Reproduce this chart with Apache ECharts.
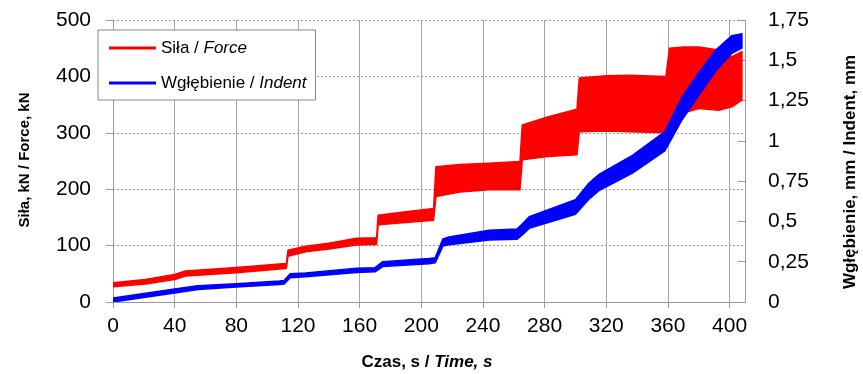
<!DOCTYPE html>
<html>
<head>
<meta charset="utf-8">
<script src="https://cdn.jsdelivr.net/npm/echarts@6/dist/echarts.min.js"></script>
<style>html,body{margin:0;padding:0;background:#fff}#c{width:863px;height:374px}</style>
</head>
<body>
<div id="c"></div>
<script>
// Force band (kN), left axis
const forceTime  = [0, 21, 40, 47, 80, 110, 112.5, 113.5, 125, 140, 158, 171, 172, 190, 208, 209.5, 225, 244, 264, 265.5, 282, 301, 302.5, 320, 335, 358.7, 361, 370, 380, 393, 401.5, 408];
const forceUpper = [34, 40, 49, 55, 61, 68, 68, 92, 99, 104, 113, 114, 154, 160, 166, 240, 244, 246, 249, 314, 328, 342, 397, 401, 402, 400, 450, 452, 452, 447, 435, 444];
const forceLower = [27, 32, 40, 46, 52, 59, 60, 81, 89, 94, 101, 102, 137, 141, 145, 187, 195, 199, 199, 252, 258, 261, 302, 303, 302, 300, 320, 335, 343, 340, 346, 358];
// Indent band (mm), right axis
const indentTime  = [0, 40, 55, 80, 108, 111, 115, 125, 158, 170, 175, 205, 209, 214, 218, 244, 262, 265, 270, 300, 309, 315, 337, 358, 369, 380, 391, 401.5, 408];
const indentUpper = [0.024, 0.080, 0.101, 0.113, 0.130, 0.134, 0.176, 0.180, 0.209, 0.213, 0.250, 0.270, 0.275, 0.391, 0.403, 0.445, 0.453, 0.479, 0.529, 0.635, 0.740, 0.790, 0.910, 1.058, 1.268, 1.423, 1.563, 1.653, 1.665];
const indentLower = [0.000, 0.056, 0.077, 0.093, 0.108, 0.112, 0.150, 0.156, 0.183, 0.187, 0.220, 0.238, 0.243, 0.347, 0.355, 0.385, 0.389, 0.411, 0.457, 0.545, 0.640, 0.690, 0.800, 0.938, 1.128, 1.283, 1.433, 1.543, 1.575];
const seriesNames = ['Siła / Force', 'Wgłębienie / Indent'];
const xTitle = ['Czas, s / ', 'Time, s'];
const yLeftTitle = 'Siła, kN / Force, kN';
const yRightTitle = 'Wgłębienie, mm / Indent, mm';

const FONT = 'Liberation Sans, Arial, sans-serif';
const RED = '#ff0000', BLUE = '#0000ff';
const rows = (t, u, l) => t.map((x, i) => [x, u[i], l[i]]);

function makeBand(name, color, yIdx, data) {
  return {
    name: name, type: 'custom', yAxisIndex: yIdx, clip: true,
    itemStyle: {color: color},
    encode: {x: 0, y: [1, 2]},
    data: data,
    renderItem: function (params, api) {
      if (params.dataIndex !== 0) return null;
      const pts = [];
      for (let i = 0; i < data.length; i++) pts.push(api.coord([data[i][0], data[i][1]]));
      for (let i = data.length - 1; i >= 0; i--) pts.push(api.coord([data[i][0], data[i][2]]));
      return {
        type: 'polygon', shape: {points: pts}, silent: true,
        style: {fill: color, stroke: color, lineWidth: 1.5, lineJoin: 'round'}
      };
    }
  };
}

const chart = echarts.init(document.getElementById('c'), null, {renderer: 'canvas'});
chart.setOption({
  animation: false,
  backgroundColor: '#fff',
  grid: {left: 113, right: 118, top: 20, bottom: 72},
  legend: {
    left: 98, top: 30, orient: 'vertical',
    data: seriesNames,
    icon: 'rect', itemWidth: 47, itemHeight: 3, itemGap: 15,
    padding: [8, 9, 7, 11],
    backgroundColor: '#fff', borderColor: '#888', borderWidth: 1, borderRadius: 0,
    formatter: n => { const p = n.split(' / '); return '{n|' + p[0] + ' / }{i|' + p[1] + '}'; },
    textStyle: {
      color: '#000', fontFamily: FONT, fontSize: 17, lineHeight: 20,
      rich: {n: {fontFamily: FONT, fontSize: 17, color: '#000'}, i: {fontFamily: FONT, fontSize: 17, fontStyle: 'italic', color: '#000'}}
    }
  },
  xAxis: {
    type: 'value', min: 0, max: 410, interval: 40,
    axisLine: {show: true, lineStyle: {color: '#999', width: 1}},
    axisTick: {show: true, inside: false, length: 6, lineStyle: {color: '#999'}},
    axisLabel: {color: '#000', fontFamily: FONT, fontSize: 21, margin: 14, showMaxLabel: false},
    splitLine: {show: true, lineStyle: {color: '#a6a6a6', width: 1}}
  },
  yAxis: [{
    type: 'value', min: 0, max: 500, interval: 100, position: 'left',
    axisLine: {show: true, lineStyle: {color: '#999', width: 1}},
    axisTick: {show: true, inside: false, length: 7, lineStyle: {color: '#999'}},
    axisLabel: {color: '#000', fontFamily: FONT, fontSize: 21, margin: 22},
    splitLine: {show: true, lineStyle: {color: '#999', width: 1, type: [2, 2]}}
  }, {
    type: 'value', min: 0, max: 1.75, interval: 0.25, position: 'right',
    axisLine: {show: true, lineStyle: {color: '#999', width: 1}},
    axisTick: {show: true, inside: true, length: 7, lineStyle: {color: '#999'}},
    axisLabel: {color: '#000', fontFamily: FONT, fontSize: 21, margin: 23,
      formatter: v => String(+v.toFixed(2)).replace('.', ',')},
    splitLine: {show: false}
  }],
  graphic: [
    {type: 'text', x: 25, y: 160, rotation: Math.PI / 2,
      style: {text: yLeftTitle, fontFamily: FONT, fontSize: 15, fontWeight: 'bold', fill: '#000', align: 'center', verticalAlign: 'middle'}},
    {type: 'text', x: 850, y: 172, rotation: Math.PI / 2,
      style: {text: yRightTitle, fontFamily: FONT, fontSize: 17, fontWeight: 'bold', fill: '#000', align: 'center', verticalAlign: 'middle'}},
    {type: 'text', x: 427, y: 362,
      style: {text: '{b|' + xTitle[0] + '}{bi|' + xTitle[1] + '}', align: 'center', verticalAlign: 'middle',
        rich: {b: {fontFamily: FONT, fontSize: 17, fontWeight: 'bold', fill: '#000'},
               bi: {fontFamily: FONT, fontSize: 17, fontWeight: 'bold', fontStyle: 'italic', fill: '#000'}}}}
  ],
  series: [
    makeBand(seriesNames[0], RED, 0, rows(forceTime, forceUpper, forceLower)),
    makeBand(seriesNames[1], BLUE, 1, rows(indentTime, indentUpper, indentLower))
  ]
});
</script>
</body>
</html>
